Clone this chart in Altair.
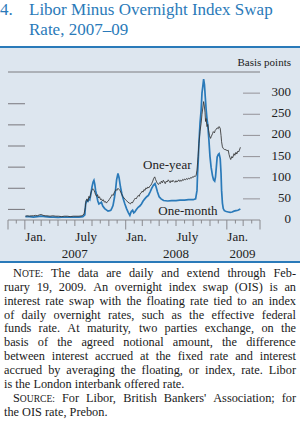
import altair as alt
import pandas as pd

# ---------------- data ----------------
one_month_dates = [
    "2007-01-03", "2007-01-17", "2007-02-01", "2007-02-15", "2007-03-01", "2007-03-15",
    "2007-04-02", "2007-04-16", "2007-05-01", "2007-05-15", "2007-06-01", "2007-06-15",
    "2007-07-02", "2007-07-16", "2007-07-30", "2007-08-06", "2007-08-09", "2007-08-13",
    "2007-08-17", "2007-08-21", "2007-08-24", "2007-08-28", "2007-09-01", "2007-09-05",
    "2007-09-08", "2007-09-11", "2007-09-14", "2007-09-18", "2007-09-22", "2007-09-26",
    "2007-10-01", "2007-10-05", "2007-10-10", "2007-10-17", "2007-10-23", "2007-10-29",
    "2007-11-04", "2007-11-08", "2007-11-12", "2007-11-16", "2007-11-21", "2007-11-25",
    "2007-11-29", "2007-12-04", "2007-12-08", "2007-12-13", "2007-12-18", "2007-12-23",
    "2007-12-29", "2008-01-04", "2008-01-10", "2008-01-16", "2008-01-21", "2008-01-26",
    "2008-01-30", "2008-02-03", "2008-02-08", "2008-02-15", "2008-02-21", "2008-02-27",
    "2008-03-04", "2008-03-10", "2008-03-17", "2008-03-23", "2008-03-29", "2008-04-04",
    "2008-04-10", "2008-04-16", "2008-04-20", "2008-04-25", "2008-05-01", "2008-05-08",
    "2008-05-17", "2008-06-01", "2008-06-15", "2008-07-01", "2008-07-15", "2008-08-01",
    "2008-08-15", "2008-09-01", "2008-09-10", "2008-09-15", "2008-09-17", "2008-09-19",
    "2008-09-22", "2008-09-26", "2008-09-30", "2008-10-03", "2008-10-06", "2008-10-09",
    "2008-10-12", "2008-10-15", "2008-10-18", "2008-10-21", "2008-10-24", "2008-10-28",
    "2008-11-01", "2008-11-05", "2008-11-10", "2008-11-14", "2008-11-18", "2008-11-21",
    "2008-11-24", "2008-11-27", "2008-12-01", "2008-12-04", "2008-12-08", "2008-12-11",
    "2008-12-13", "2008-12-16", "2008-12-19", "2008-12-23", "2008-12-30", "2009-01-06",
    "2009-01-13", "2009-01-20", "2009-01-27", "2009-02-03", "2009-02-10", "2009-02-19",
]
one_month_vals = [
    8, 8, 7, 8, 9, 8,
    7, 7, 6, 7, 7, 7,
    7, 7, 8, 12, 38, 46,
    44, 50, 48, 62, 78, 90,
    94, 85, 70, 58, 45, 38,
    40, 42, 33, 27, 24, 21,
    22, 23, 28, 34, 52, 70,
    95, 110, 100, 78, 62, 50,
    38, 27, 18, 11, 20, 23,
    17, 19, 24, 30, 33, 38,
    45, 50, 55, 58, 66, 75,
    82, 86, 78, 66, 55, 50,
    46, 45, 46, 46, 47, 47,
    48, 48, 50, 70, 110, 134,
    181, 230, 260, 300, 316, 333,
    320, 290, 262, 240, 225, 190,
    150, 125, 105, 95, 92, 102,
    125, 149, 155, 157, 145, 110,
    70, 40, 27, 22, 20, 19,
    18, 19, 21, 22, 23, 26,
]

one_year_dates = [
    "2007-01-03", "2007-01-10", "2007-01-17", "2007-01-24", "2007-02-01", "2007-02-08",
    "2007-02-15", "2007-02-22", "2007-03-01", "2007-03-08", "2007-03-15", "2007-03-22",
    "2007-04-02", "2007-04-12", "2007-04-23", "2007-05-03", "2007-05-14", "2007-05-24",
    "2007-06-04", "2007-06-14", "2007-06-25", "2007-07-05", "2007-07-16", "2007-07-27",
    "2007-08-03", "2007-08-08", "2007-08-10", "2007-08-14", "2007-08-17", "2007-08-21",
    "2007-08-24", "2007-08-28", "2007-08-31", "2007-09-04", "2007-09-07", "2007-09-11",
    "2007-09-14", "2007-09-18", "2007-09-21", "2007-09-25", "2007-09-28", "2007-10-02",
    "2007-10-05", "2007-10-09", "2007-10-12", "2007-10-16", "2007-10-19", "2007-10-23",
    "2007-10-26", "2007-10-30", "2007-11-02", "2007-11-06", "2007-11-09", "2007-11-13",
    "2007-11-16", "2007-11-20", "2007-11-23", "2007-11-27", "2007-11-30", "2007-12-04",
    "2007-12-07", "2007-12-11", "2007-12-14", "2007-12-18", "2007-12-21", "2007-12-26",
    "2007-12-31", "2008-01-04", "2008-01-09", "2008-01-14", "2008-01-18", "2008-01-22",
    "2008-01-25", "2008-01-29", "2008-02-01", "2008-02-05", "2008-02-08", "2008-02-12",
    "2008-02-15", "2008-02-19", "2008-02-22", "2008-02-26", "2008-02-29", "2008-03-04",
    "2008-03-07", "2008-03-11", "2008-03-14", "2008-03-18", "2008-03-21", "2008-03-25",
    "2008-03-28", "2008-04-01", "2008-04-04", "2008-04-08", "2008-04-11", "2008-04-15",
    "2008-04-18", "2008-04-22", "2008-04-25", "2008-04-29", "2008-05-02", "2008-05-06",
    "2008-05-09", "2008-05-13", "2008-05-16", "2008-05-20", "2008-05-23", "2008-05-27",
    "2008-05-30", "2008-06-03", "2008-06-06", "2008-06-10", "2008-06-13", "2008-06-17",
    "2008-06-20", "2008-06-24", "2008-06-27", "2008-07-01", "2008-07-04", "2008-07-08",
    "2008-07-11", "2008-07-15", "2008-07-18", "2008-07-22", "2008-07-25", "2008-07-29",
    "2008-08-01", "2008-08-05", "2008-08-08", "2008-08-12", "2008-08-15", "2008-08-19",
    "2008-08-22", "2008-08-26", "2008-08-29", "2008-09-02", "2008-09-05", "2008-09-09",
    "2008-09-12", "2008-09-15", "2008-09-17", "2008-09-19", "2008-09-22", "2008-09-26",
    "2008-09-30", "2008-10-03", "2008-10-06", "2008-10-09", "2008-10-11", "2008-10-14",
    "2008-10-16", "2008-10-18", "2008-10-21", "2008-10-24", "2008-10-27", "2008-10-30",
    "2008-11-03", "2008-11-06", "2008-11-10", "2008-11-13", "2008-11-17", "2008-11-20",
    "2008-11-24", "2008-11-27", "2008-12-01", "2008-12-04", "2008-12-08", "2008-12-11",
    "2008-12-13", "2008-12-16", "2008-12-19", "2008-12-23", "2008-12-29", "2009-01-02",
    "2009-01-06", "2009-01-09", "2009-01-12", "2009-01-15", "2009-01-19", "2009-01-22",
    "2009-01-27", "2009-01-30", "2009-02-03", "2009-02-06", "2009-02-10", "2009-02-13",
    "2009-02-17", "2009-02-19",
]
one_year_vals = [
    9, 10, 9, 10, 10, 11,
    10, 12, 13, 11, 10, 10,
    9, 10, 9, 9, 8, 9,
    9, 8, 9, 9, 9, 10,
    14, 30, 45, 50, 44, 56,
    52, 64, 70, 74, 72, 66,
    60, 56, 60, 52, 55, 48,
    50, 45, 48, 42, 44, 40,
    43, 45, 48, 52, 55, 60,
    58, 64, 68, 72, 70, 75,
    73, 70, 66, 60, 56, 52,
    48, 46, 42, 40, 38, 42,
    40, 45, 48, 52, 50, 55,
    58, 56, 62, 64, 68, 66,
    72, 70, 76, 74, 78, 76,
    80, 82, 86, 92, 98, 102,
    96, 90, 86, 84, 88, 86,
    92, 88, 94, 90, 86, 92,
    90, 95, 92, 88, 93, 90,
    94, 91, 89, 93, 90, 92,
    95, 91, 94, 92, 96, 94,
    97, 95, 98, 96, 99, 97,
    100, 99, 102, 101, 104, 103,
    106, 118, 135, 150, 181, 210,
    229, 250, 265, 280, 272, 255,
    233, 240, 221, 226, 212, 200,
    193, 198, 204, 209, 206, 212,
    215, 218, 216, 221, 217, 200,
    185, 173, 169, 167, 166, 164,
    165, 155, 148, 143, 150, 147,
    157, 153, 160, 156, 163, 161,
    168, 172,
]

y_label_vals = [0, 50, 100, 150, 200, 250, 300]
right_tick_vals = [50, 100, 150, 200, 250, 300]
left_tick_vals = [25, 75, 125, 175, 225, 275]

month_label_dates = ["2007-01-01", "2007-07-01", "2008-01-01", "2008-07-01", "2009-01-01"]
month_label_text = ["Jan.", "July", "Jan.", "July", "Jan."]
year_label_dates = ["2007-07-01", "2008-07-01", "2009-02-27"]
year_label_text = ["2007", "2008", "2009"]

series_label_text = ["One-year", "One-month"]
series_label_dates = ["2008-03-04", "2008-04-28"]
series_label_vals = [121, 12]

title_lines = ["Libor Minus Overnight Index Swap", "Rate, 2007\u201309"]
title_number = "4."

note_lines = [
    "NOTE: The data are daily and extend through Feb-",
    "ruary 19, 2009. An overnight index swap (OIS) is an",
    "interest rate swap with the floating rate tied to an index",
    "of daily overnight rates, such as the effective federal",
    "funds rate. At maturity, two parties exchange, on the",
    "basis of the agreed notional amount, the difference",
    "between interest accrued at the fixed rate and interest",
    "accrued by averaging the floating, or index, rate. Libor",
    "is the London interbank offered rate.",
    "SOURCE: For Libor, British Bankers' Association; for",
    "the OIS rate, Prebon.",
]
note_indent = [True, False, False, False, False, False, False, False, False, True, False]
note_justify = [True, True, True, True, True, True, True, True, False, True, False]

# ---------------- layout constants ----------------
PL, PT = 8, 72          # plot origin in page pixels
PW, PH = 252, 148       # plot size
SERIF = "Liberation Serif"
BLUE = "#2a7ab9"
FS = 12.3               # note font size

# Times-like advance widths (per 1000 em) for justified note text
W = {" ": 250, ",": 250, ".": 250, "-": 333, ":": 278, ";": 278, "(": 333, ")": 333, "'": 180,
     "0": 500, "1": 500, "2": 500, "3": 500, "4": 500, "5": 500, "6": 500, "7": 500, "8": 500, "9": 500,
     "A": 722, "B": 667, "C": 667, "D": 722, "E": 611, "F": 556, "G": 722, "H": 722, "I": 333,
     "J": 389, "K": 722, "L": 611, "M": 889, "N": 722, "O": 722, "P": 556, "Q": 722, "R": 667,
     "S": 556, "T": 611, "U": 722, "V": 722, "W": 944, "X": 722, "Y": 722, "Z": 611,
     "a": 444, "b": 500, "c": 444, "d": 500, "e": 444, "f": 333, "g": 500, "h": 500, "i": 278,
     "j": 278, "k": 500, "l": 278, "m": 778, "n": 500, "o": 500, "p": 500, "q": 500, "r": 333,
     "s": 389, "t": 278, "u": 500, "v": 500, "w": 722, "x": 500, "y": 500, "z": 444}


def tw(s, size):
    return sum(W.get(c, 500) for c in s) * size / 1000.0


def pieces(word):
    if word in ("NOTE:", "SOURCE:"):
        return [(word[0], FS), (word[1:], FS * 0.78)]
    return [(word, FS)]


rows = []
for i, line in enumerate(note_lines):
    y = 277.0 + 13.85 * i
    x0 = 13.0 if note_indent[i] else 4.0
    x1 = 296.0
    words = [pieces(w) for w in line.split(" ")]
    widths = [sum(tw(t, s) for t, s in p) for p in words]
    if note_justify[i] and len(words) > 1:
        gap = (x1 - x0 - sum(widths)) / (len(words) - 1)
    else:
        gap = tw(" ", FS)
    x = x0
    for p, wdt in zip(words, widths):
        xx = x
        for t, s in p:
            rows.append({"t": t, "x": xx - PL, "y": y - PT, "s": s})
            xx += tw(t, s)
        x += wdt + gap
note_df = pd.DataFrame(rows)

# ---------------- tables ----------------
lines_df = pd.concat([
    pd.DataFrame({"date": one_month_dates, "bp": one_month_vals, "series": "One-month"}),
    pd.DataFrame({"date": one_year_dates, "bp": one_year_vals, "series": "One-year"}),
])
months = pd.date_range("2006-11-01", "2009-05-01", freq="MS")
tick_df = pd.DataFrame({"date": months.strftime("%Y-%m-%d"), "m": months.month})
edge = tick_df["date"].isin(["2006-11-01", "2009-05-01"])
tick_df["kind"] = "short"
tick_df.loc[tick_df["m"] % 2 == 1, "kind"] = "mid"
tick_df.loc[(tick_df["m"] == 1) | edge, "kind"] = "long"

one = pd.DataFrame({"a": [0]})

xscale = alt.Scale(type="utc", domain=[alt.DateTime(year=2006, month=11, date=1, utc=True),
                                       alt.DateTime(year=2009, month=5, date=1, utc=True)])
yscale = alt.Scale(domain=[0, 350], nice=False)
X = alt.X("date:T", scale=xscale, axis=None)
Y_none = dict(scale=yscale, axis=None)

panel = alt.Chart(one).mark_rect(color="#dde6ef").encode(
    x=alt.value(-PL), x2=alt.value(300 - PL), y=alt.value(48 - PT), y2=alt.value(261 - PT))
blue_top = alt.Chart(one).mark_rule(color=BLUE, strokeWidth=2.2).encode(
    x=alt.value(-PL), x2=alt.value(300 - PL), y=alt.value(47 - PT))
blue_bot = alt.Chart(one).mark_rule(color=BLUE, strokeWidth=2.2).encode(
    x=alt.value(-PL), x2=alt.value(300 - PL), y=alt.value(262 - PT))
top_rule = alt.Chart(one).mark_rule(color="#7d7d80", strokeWidth=1).encode(
    x=alt.value(0), x2=alt.value(PW), y=alt.value(0))
bottom_rule = alt.Chart(one).mark_rule(color="#8a8a8e", strokeWidth=1).encode(
    x=alt.value(0), x2=alt.value(PW), y=alt.value(PH))

left_ticks = alt.Chart(pd.DataFrame({"v": left_tick_vals})).mark_rule(
    color="#808086", strokeWidth=1.1).encode(
    y=alt.Y("v:Q", **Y_none), x=alt.value(0), x2=alt.value(17))
right_ticks = alt.Chart(pd.DataFrame({"v": right_tick_vals})).mark_rule(
    color="#9a9aa0", strokeWidth=1.1).encode(
    y=alt.Y("v:Q", **Y_none), x=alt.value(PW - 17), x2=alt.value(PW))
y_labels = alt.Chart(pd.DataFrame({"v": y_label_vals})).mark_text(
    font=SERIF, fontSize=13, align="right", baseline="middle", color="#222222", dy=-1).encode(
    y=alt.Y("v:Q", **Y_none), x=alt.value(291 - PL), text="v:Q")

month_line = alt.Chart(lines_df).transform_filter(alt.datum.series == "One-month").mark_line(
    color=BLUE, strokeWidth=1.7).encode(
    x=X, y=alt.Y("bp:Q", **Y_none))
year_line = alt.Chart(lines_df).transform_filter(alt.datum.series == "One-year").mark_line(
    color="#333333", strokeWidth=0.85).encode(
    x=X, y=alt.Y("bp:Q", **Y_none))

tick_layers = []
for kind, h in [("long", 9.5), ("mid", 6), ("short", 3.5)]:
    tick_layers.append(
        alt.Chart(tick_df).transform_filter(alt.datum.kind == kind).mark_rule(
            color="#8a8a8e", strokeWidth=1).encode(
            x=X, y=alt.value(PH), y2=alt.value(PH + h)))

month_labels = alt.Chart(pd.DataFrame({"date": month_label_dates, "t": month_label_text})).mark_text(
    font=SERIF, fontSize=13, align="left", baseline="alphabetic", color="#222222", dx=0.5).encode(
    x=X, y=alt.value(241 - PT), text="t:N")
year_labels = alt.Chart(pd.DataFrame({"date": year_label_dates, "t": year_label_text})).mark_text(
    font=SERIF, fontSize=13, align="center", baseline="alphabetic", color="#222222").encode(
    x=X, y=alt.value(258 - PT), text="t:N")

series_labels = alt.Chart(pd.DataFrame({"date": series_label_dates, "bp": series_label_vals,
                                        "t": series_label_text})).mark_text(
    font=SERIF, fontSize=13, align="left", baseline="alphabetic", color="#222222").encode(
    x=X, y=alt.Y("bp:Q", **Y_none), text="t:N")

basis = alt.Chart(one).mark_text(font=SERIF, fontSize=11, align="right", baseline="alphabetic",
                                 color="#222222", text="Basis points").encode(
    x=alt.value(291 - PL), y=alt.value(66 - PT))

title_num = alt.Chart(one).mark_text(font=SERIF, fontSize=17, align="left", baseline="alphabetic",
                                     color=BLUE, text=title_number).encode(
    x=alt.value(0 - PL), y=alt.value(15 - PT))
title1 = alt.Chart(one).mark_text(font=SERIF, fontSize=17, align="left", baseline="alphabetic",
                                  color=BLUE, text=title_lines[0]).encode(
    x=alt.value(29 - PL), y=alt.value(15 - PT))
title2 = alt.Chart(one).mark_text(font=SERIF, fontSize=17, align="left", baseline="alphabetic",
                                  color=BLUE, text=title_lines[1]).encode(
    x=alt.value(29 - PL), y=alt.value(35 - PT))

notes = alt.Chart(note_df).mark_text(font=SERIF, align="left", baseline="alphabetic",
                                     color="#1a1a1a").encode(
    x=alt.X("x:Q", scale=None, axis=None), y=alt.Y("y:Q", scale=None, axis=None),
    size=alt.Size("s:Q", scale=None, legend=None), text="t:N")

chart = alt.layer(
    panel, blue_top, blue_bot, top_rule, bottom_rule, left_ticks, right_ticks, y_labels,
    *tick_layers, month_line, year_line, month_labels, year_labels, series_labels,
    basis, title_num, title1, title2, notes,
).properties(
    width=PW, height=PH,
    autosize=alt.AutoSizeParams(type="none"),
    padding={"left": PL, "top": PT, "right": 300 - PL - PW, "bottom": 430 - PT - PH},
    background="white",
).configure_view(stroke=None)

chart.save("out.html", embed_options={"renderer": "svg", "actions": False})
